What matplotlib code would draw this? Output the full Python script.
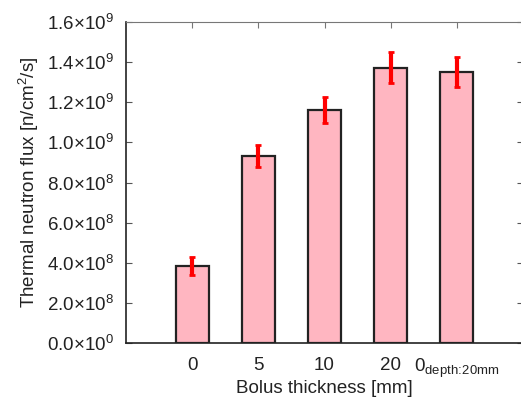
import numpy as np
import matplotlib
matplotlib.use('Agg')
import matplotlib.pyplot as plt

plt.rcParams['font.family'] = 'Liberation Sans'
plt.rcParams['mathtext.fontset'] = 'custom'
plt.rcParams['mathtext.rm'] = 'Liberation Sans'
plt.rcParams['mathtext.it'] = 'Liberation Sans'

# bolus thickness cases
labels = ['0', '5', '10', '20', r'$\mathregular{0_{depth\!:\!20mm}}$']
flux = [3.84e8, 9.32e8, 1.161e9, 1.372e9, 1.352e9]
flux_err = [0.45e8, 0.57e8, 0.65e8, 0.77e8, 0.75e8]
yticks = [0, 2e8, 4e8, 6e8, 8e8, 1.0e9, 1.2e9, 1.4e9, 1.6e9]
ytick_labels = [r'$\mathregular{0.0{\times}10^{0}}$', r'$\mathregular{2.0{\times}10^{8}}$',
                r'$\mathregular{4.0{\times}10^{8}}$', r'$\mathregular{6.0{\times}10^{8}}$',
                r'$\mathregular{8.0{\times}10^{8}}$', r'$\mathregular{1.0{\times}10^{9}}$',
                r'$\mathregular{1.2{\times}10^{9}}$', r'$\mathregular{1.4{\times}10^{9}}$',
                r'$\mathregular{1.6{\times}10^{9}}$']

fig = plt.figure(figsize=(5.21, 4.01), dpi=100)
ax = fig.add_axes([126 / 521, 58 / 401, 397 / 521, 321 / 401])

x = np.arange(len(flux))
ax.bar(x, flux, width=0.5, color='#ffb6c1', edgecolor='#222222', linewidth=1.6, zorder=3)
ax.errorbar(x, flux, yerr=flux_err, fmt='none', ecolor='red', elinewidth=3,
            capsize=2.5, capthick=2, zorder=4)

ax.set_xlim(-1, 5)
ax.set_ylim(0, 1.6e9)
ax.set_xticks(x)
ax.set_xticklabels(labels)
ax.set_yticks(yticks)
ax.set_yticklabels(ytick_labels)

ax.tick_params(axis='both', labelsize=13.5, colors='#222222')
ax.tick_params(axis='x', direction='in', bottom=False, top=True, length=4,
               color='#777777', pad=10)
ax.tick_params(axis='y', direction='in', left=True, right=True, length=4,
               color='#555555', pad=9)

ax.spines['top'].set_color('#777777')
ax.spines['right'].set_color('#777777')
for s in ['left', 'bottom']:
    ax.spines[s].set_color('#222222')
    ax.spines[s].set_linewidth(1.2)

ax.set_xlabel('Bolus thickness [mm]', fontsize=13.5, color='#222222')
ax.xaxis.set_label_coords(0.5, -0.115)
ax.set_ylabel(r'Thermal neutron flux [n/cm$^2$/s]', fontsize=13.5, color='#222222', labelpad=4)

fig.savefig('out.png', dpi=100)
